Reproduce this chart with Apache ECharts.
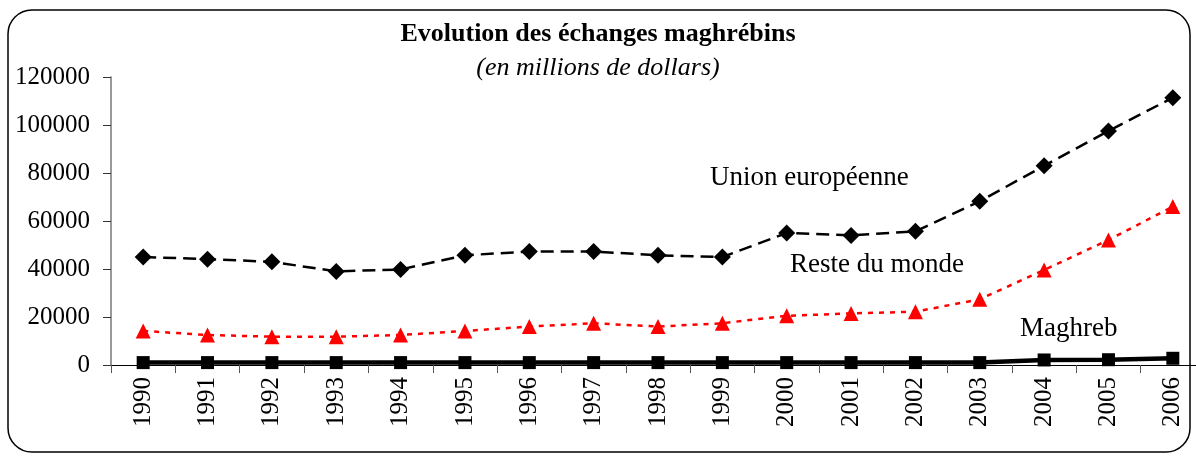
<!DOCTYPE html>
<html>
<head>
<meta charset="utf-8">
<script src="https://cdn.jsdelivr.net/npm/echarts@6/dist/echarts.min.js"></script>
<style>
  html, body { margin: 0; padding: 0; background: #fff; }
  #chart { width: 1196px; height: 456px; }
</style>
</head>
<body>
<div id="chart"></div>
<script>
var years = ['1990', '1991', '1992', '1993', '1994', '1995', '1996', '1997', '1998',
             '1999', '2000', '2001', '2002', '2003', '2004', '2005', '2006'];
var unionEuropeenne = [45000, 44100, 43000, 39000, 39800, 45700, 47300, 47300, 45700,
                       45000, 55000, 54000, 55700, 68200, 83000, 97500, 111400];
var resteDuMonde = [14200, 12500, 11800, 11800, 12500, 14200, 16000, 17400, 16000,
                    17400, 20500, 21500, 22200, 27400, 39600, 52100, 66000];
var maghreb = [1000, 1000, 1000, 1000, 1000, 1000, 1000, 1000, 1000,
               1000, 1000, 1000, 1000, 1000, 2100, 2200, 2800];
var yTicks = [0, 20000, 40000, 60000, 80000, 100000, 120000];

var serif = '"Liberation Serif", "DejaVu Serif", serif';
var myChart;

document.addEventListener("DOMContentLoaded", function() {
    myChart = echarts.init(document.getElementById('chart'));
    var option = {
        animation: false,
        textStyle: { fontFamily: serif, color: '#000' },
        title: {
            text: 'Evolution des échanges maghrébins',
            subtext: '(en millions de dollars)',
            left: 'center',
            top: 16,
            itemGap: 8,
            textStyle: { fontFamily: serif, fontSize: 26, fontWeight: 'bold', color: '#000' },
            subtextStyle: { fontFamily: serif, fontSize: 26, fontStyle: 'italic', color: '#000' }
        },
        grid: {
            left: 111,
            top: 77,
            bottom: 91,
            width: 1094,
            outerBoundsMode: 'none'
        },
        xAxis: {
            type: 'category',
            data: years,
            boundaryGap: true,
            axisLine: { lineStyle: { color: '#000', width: 1 } },
            axisTick: { show: true, interval: 0, length: 8, lineStyle: { color: '#555' } },
            axisLabel: {
                interval: 0,
                rotate: 90,
                margin: 12,
                fontFamily: serif,
                fontSize: 25,
                color: '#000'
            }
        },
        yAxis: {
            type: 'value',
            min: yTicks[0],
            max: yTicks[yTicks.length - 1],
            interval: 20000,
            splitLine: { show: false },
            axisLine: { show: true, lineStyle: { color: '#777', width: 1.5 } },
            axisTick: { show: true, length: 8, lineStyle: { color: '#333' } },
            axisLabel: {
                margin: 21,
                fontFamily: serif,
                fontSize: 25,
                color: '#000',
                formatter: function (v) { return String(v); }
            }
        },
        graphic: [
            {
                type: 'rect',
                shape: { x: 8, y: 10, width: 1182, height: 442, r: 24 },
                style: { fill: 'none', stroke: '#000', lineWidth: 1.5 },
                z: 100
            },
            {
                type: 'text', left: 710, top: 164,
                style: { text: 'Union européenne', font: '27px ' + serif, fill: '#000' }
            },
            {
                type: 'text', left: 790, top: 251,
                style: { text: 'Reste du monde', font: '27px ' + serif, fill: '#000' }
            },
            {
                type: 'text', left: 1020, top: 315,
                style: { text: 'Maghreb', font: '27px ' + serif, fill: '#000' }
            }
        ],
        series: [
            {
                name: 'Union européenne',
                type: 'line',
                data: unionEuropeenne,
                symbol: 'diamond',
                symbolSize: 17,
                itemStyle: { color: '#000' },
                lineStyle: { color: '#000', width: 2.5, type: [13, 7] },
                z: 3
            },
            {
                name: 'Reste du monde',
                type: 'line',
                data: resteDuMonde,
                symbol: 'triangle',
                symbolSize: 15,
                itemStyle: { color: '#ff0000' },
                lineStyle: { color: '#ff0000', width: 2.5, type: [5, 6] },
                z: 2
            },
            {
                name: 'Maghreb',
                type: 'line',
                data: maghreb,
                symbol: 'rect',
                symbolSize: 13,
                itemStyle: { color: '#000' },
                lineStyle: { color: '#000', width: 4.5 },
                z: 4
            }
        ]
    };
    myChart.setOption(option);
});
</script>
</body>
</html>
